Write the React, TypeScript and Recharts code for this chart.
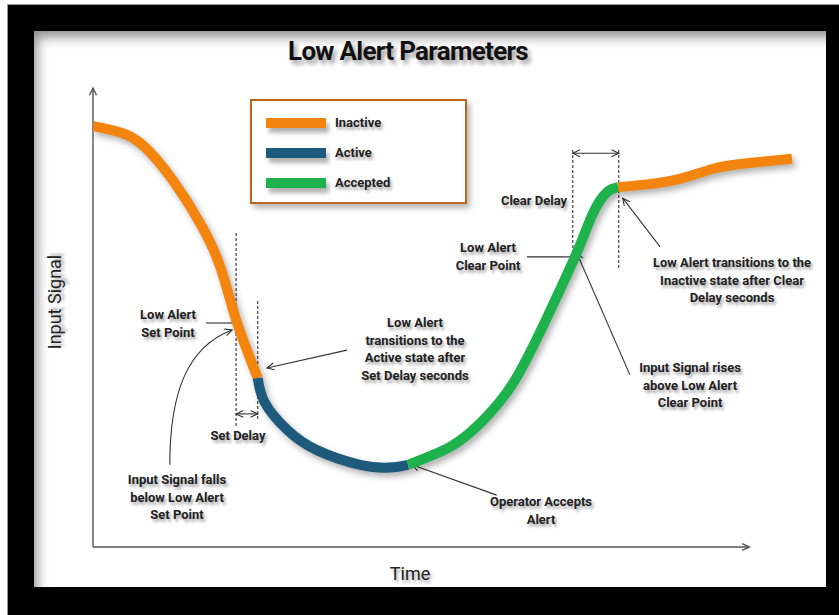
import React from 'react';
import { LineChart, Line, XAxis, YAxis, ReferenceLine, Legend } from 'recharts';

// curve samples: t = time (0..110), s = input signal (0..100)
const inactiveStart = [
  { t: 0, s: 91.7 }, { t: 5.2, s: 89.8 }, { t: 8.7, s: 86.0 }, { t: 12.2, s: 79.8 },
  { t: 16.3, s: 70.6 }, { t: 19.4, s: 61.0 }, { t: 21.8, s: 49.5 }, { t: 25.1, s: 36.8 },
];
const activeSeg = [
  { t: 25.1, s: 36.8 }, { t: 26.2, s: 31.4 }, { t: 29.6, s: 25.5 }, { t: 34.1, s: 21.1 },
  { t: 40.7, s: 17.9 }, { t: 45.2, s: 17.3 }, { t: 48.0, s: 17.9 },
];
const acceptedSeg = [
  { t: 48.0, s: 17.9 }, { t: 54.4, s: 21.8 }, { t: 59.0, s: 27.0 }, { t: 64.0, s: 35.7 },
  { t: 69.2, s: 50.1 }, { t: 73.7, s: 64.1 }, { t: 76.2, s: 72.8 }, { t: 78.3, s: 77.3 }, { t: 80.0, s: 78.4 },
];
const inactiveEnd = [
  { t: 80.0, s: 78.4 }, { t: 84.4, s: 79.0 }, { t: 89.4, s: 80.2 }, { t: 94.5, s: 82.4 },
  { t: 99.6, s: 83.6 }, { t: 106.5, s: 84.6 },
];
const legendOrder = ['Inactive', 'Active', 'Accepted'];

const setPointT = 21.8;
const setDelayEndT = 25.1;
const clearPointT = 73.1;
const clearDelayEndT = 80.1;

const ORANGE = '#F3850F';
const BLUE = '#1E5A7C';
const GREEN = '#1DB24C';
const INK = '#222';
const TEXT_SHADOW = '2px 3px 3px rgba(0,0,0,0.35)';

type ArrowOpts = { start?: boolean; end?: boolean; dashed?: boolean; curve?: boolean; color?: string; width?: number };

const head = (tx: number, ty: number, fx: number, fy: number, color: string, w: number) => {
  const a = Math.atan2(ty - fy, tx - fx);
  const len = 8;
  const sp = 0.45;
  const p1 = `${tx - len * Math.cos(a - sp)},${ty - len * Math.sin(a - sp)}`;
  const p2 = `${tx - len * Math.cos(a + sp)},${ty - len * Math.sin(a + sp)}`;
  return <polyline points={`${p1} ${tx},${ty} ${p2}`} fill="none" stroke={color} strokeWidth={w} />;
};

const arrowShape = (o: ArrowOpts) => (p: any) => {
  const { x1, y1, x2, y2 } = p;
  const color = o.color || '#333';
  const w = o.width || 1.1;
  if (o.curve) {
    const c1x = x1, c1y = y1 - 0.55 * (y1 - y2);
    const c2x = x1 + 0.3 * (x2 - x1), c2y = y2 + 0.12 * (y1 - y2);
    return (
      <g>
        <path d={`M${x1},${y1} C${c1x},${c1y} ${c2x},${c2y} ${x2},${y2}`} fill="none" stroke={color} strokeWidth={w} />
        {head(x2, y2, c2x, c2y, color, w)}
      </g>
    );
  }
  return (
    <g>
      <line x1={x1} y1={y1} x2={x2} y2={y2} stroke={color} strokeWidth={w} strokeDasharray={o.dashed ? '3 2' : undefined} />
      {o.end && head(x2, y2, x1, y1, color, w)}
      {o.start && head(x1, y1, x2, y2, color, w)}
    </g>
  );
};

const Note = ({ cx, y, lines, lh = 17.5 }: { cx: number; y: number; lines: string[]; lh?: number }) => (
  <div style={{
    position: 'absolute', left: cx - 110, width: 220, top: y - lh / 2, lineHeight: `${lh}px`,
    textAlign: 'center', fontFamily: 'Roboto, sans-serif', fontWeight: 700, fontSize: 13,
    color: INK, textShadow: TEXT_SHADOW, whiteSpace: 'nowrap',
  }}>
    {lines.map((l, i) => <div key={i}>{l}</div>)}
  </div>
);

const LegendBox = (props: any) => {
  const items = (props.payload || [])
    .filter((e: any) => legendOrder.includes(e.value))
    .sort((a: any, b: any) => legendOrder.indexOf(a.value) - legendOrder.indexOf(b.value));
  return (
    <div style={{
      position: 'relative', width: 213, height: 101, border: '2px solid #C0661C', background: '#fff',
      boxShadow: '3px 4px 6px rgba(0,0,0,0.3)', boxSizing: 'content-box',
    }}>
      {items.map((e: any, i: number) => (
        <div key={i} style={{ position: 'absolute', left: 14, top: 16 + i * 30, display: 'flex', alignItems: 'center' }}>
          <div style={{ width: 60, height: 10, background: e.color, boxShadow: '3px 5px 4px rgba(0,0,0,0.3)' }} />
          <span style={{
            marginLeft: 9, fontFamily: 'Roboto, sans-serif', fontWeight: 700, fontSize: 13,
            color: INK, textShadow: TEXT_SHADOW, lineHeight: '12px',
          }}>{e.value}</span>
        </div>
      ))}
    </div>
  );
};

export default function App() {
  return (
    <div style={{ position: 'relative', width: 839, height: 615, background: '#fff', overflow: 'hidden' }}>
      <style>{`body{margin:0;background:#fff}
        .recharts-line-curve{filter:drop-shadow(3px 4px 3px rgba(0,0,0,0.3))}`}</style>
      <div style={{ position: 'absolute', left: 7, top: 4, right: 0, bottom: 0, background: '#000', borderTop: '1px solid #999', borderLeft: '1px solid #999' }} />
      <div style={{
        position: 'absolute', left: 34, top: 31, width: 792, height: 556, background: '#fff',
        boxShadow: 'inset 9px 12px 12px -6px rgba(0,0,0,0.45)',
      }} />

      <div style={{
        position: 'absolute', left: 208, width: 400, top: 36, textAlign: 'center',
        fontFamily: 'Roboto, sans-serif', fontWeight: 700, fontSize: 26, letterSpacing: -0.7,
        color: '#111', textShadow: '3px 4px 4px rgba(0,0,0,0.4)',
      }}>Low Alert Parameters</div>

      <div style={{
        position: 'absolute', left: 55 - 60, top: 302 - 12, width: 120, height: 24, lineHeight: '24px',
        textAlign: 'center', transform: 'rotate(-90deg)', fontFamily: 'Roboto, sans-serif', fontSize: 18,
        color: INK, textShadow: TEXT_SHADOW,
      }}>Input Signal</div>
      <div style={{
        position: 'absolute', left: 410 - 60, top: 574 - 12, width: 120, lineHeight: '24px',
        textAlign: 'center', fontFamily: 'Roboto, sans-serif', fontSize: 18, color: INK, textShadow: TEXT_SHADOW,
      }}>Time</div>

      <div style={{ position: 'absolute', left: 0, top: 0 }}>
        <LineChart width={839} height={615} margin={{ top: 88, right: 24, bottom: 68, left: 93 }}>
          <XAxis type="number" dataKey="t" domain={[0, 110]} hide allowDataOverflow />
          <YAxis type="number" dataKey="s" domain={[0, 100]} hide allowDataOverflow />
          <Legend
            content={<LegendBox />}
            layout="horizontal"
            verticalAlign="middle"
            align="center"
            wrapperStyle={{ position: 'absolute', left: 250, top: 99, width: 217, height: 105 }}
          />

          {/* axes with arrow heads */}
          <ReferenceLine segment={[{ x: 0, y: 0 }, { x: 0, y: 100 }]} shape={arrowShape({ end: true, color: '#555', width: 1.4 })} ifOverflow="visible" />
          <ReferenceLine segment={[{ x: 0, y: 0 }, { x: 100, y: 0 }]} shape={arrowShape({ end: true, color: '#555', width: 1.4 })} ifOverflow="visible" />

          {/* delay markers */}
          <ReferenceLine segment={[{ x: setPointT, y: 68.4 }, { x: setPointT, y: 26.1 }]} shape={arrowShape({ dashed: true })} />
          <ReferenceLine segment={[{ x: setDelayEndT, y: 53.6 }, { x: setDelayEndT, y: 27.7 }]} shape={arrowShape({ dashed: true })} />
          <ReferenceLine segment={[{ x: setPointT, y: 29.0 }, { x: setDelayEndT, y: 29.0 }]} shape={arrowShape({ start: true, end: true })} />
          <ReferenceLine segment={[{ x: clearPointT, y: 86.5 }, { x: clearPointT, y: 60.8 }]} shape={arrowShape({ dashed: true })} />
          <ReferenceLine segment={[{ x: clearDelayEndT, y: 86.5 }, { x: clearDelayEndT, y: 60.8 }]} shape={arrowShape({ dashed: true })} />
          <ReferenceLine segment={[{ x: clearPointT, y: 85.8 }, { x: clearDelayEndT, y: 85.8 }]} shape={arrowShape({ start: true, end: true })} />

          {/* leaders */}
          <ReferenceLine segment={[{ x: 17.2, y: 48.8 }, { x: 21.6, y: 48.8 }]} shape={arrowShape({})} />
          <ReferenceLine segment={[{ x: 11.7, y: 17.9 }, { x: 21.2, y: 47.3 }]} shape={arrowShape({ curve: true })} />
          <ReferenceLine segment={[{ x: 38.7, y: 42.9 }, { x: 26.5, y: 39.0 }]} shape={arrowShape({ end: true })} />
          <ReferenceLine segment={[{ x: 61.5, y: 11.3 }, { x: 48.6, y: 17.9 }]} shape={arrowShape({ end: true })} />
          <ReferenceLine segment={[{ x: 66.1, y: 63.2 }, { x: 73.0, y: 63.2 }]} shape={arrowShape({})} />
          <ReferenceLine segment={[{ x: 81.8, y: 37.5 }, { x: 73.7, y: 64.1 }]} shape={arrowShape({ end: true })} />
          <ReferenceLine segment={[{ x: 86.4, y: 65.4 }, { x: 80.7, y: 76.0 }]} shape={arrowShape({ end: true })} />

          <Line data={inactiveStart} dataKey="s" name="Inactive" type="natural" stroke={ORANGE} strokeWidth={10} dot={false} isAnimationActive={false} />
          <Line data={activeSeg} dataKey="s" name="Active" type="natural" stroke={BLUE} strokeWidth={10} dot={false} isAnimationActive={false} />
          <Line data={acceptedSeg} dataKey="s" name="Accepted" type="natural" stroke={GREEN} strokeWidth={10} dot={false} isAnimationActive={false} />
          <Line data={inactiveEnd} dataKey="s" name="Inactive (cleared)" type="natural" stroke={ORANGE} strokeWidth={10} dot={false} legendType="none" isAnimationActive={false} />
        </LineChart>
      </div>

      <Note cx={168} y={315} lines={['Low Alert', 'Set Point']} />
      <Note cx={238} y={436} lines={['Set Delay']} />
      <Note cx={177} y={480} lines={['Input Signal falls', 'below Low Alert', 'Set Point']} />
      <Note cx={415} y={323} lines={['Low Alert', 'transitions to the', 'Active state after', 'Set Delay seconds']} />
      <Note cx={541} y={502} lines={['Operator Accepts', 'Alert']} />
      <Note cx={534} y={201} lines={['Clear Delay']} />
      <Note cx={488} y={248} lines={['Low Alert', 'Clear Point']} />
      <Note cx={690} y={368} lines={['Input Signal rises', 'above Low Alert', 'Clear Point']} />
      <Note cx={732} y={263} lines={['Low Alert transitions to the', 'Inactive state after Clear', 'Delay seconds']} />
    </div>
  );
}
